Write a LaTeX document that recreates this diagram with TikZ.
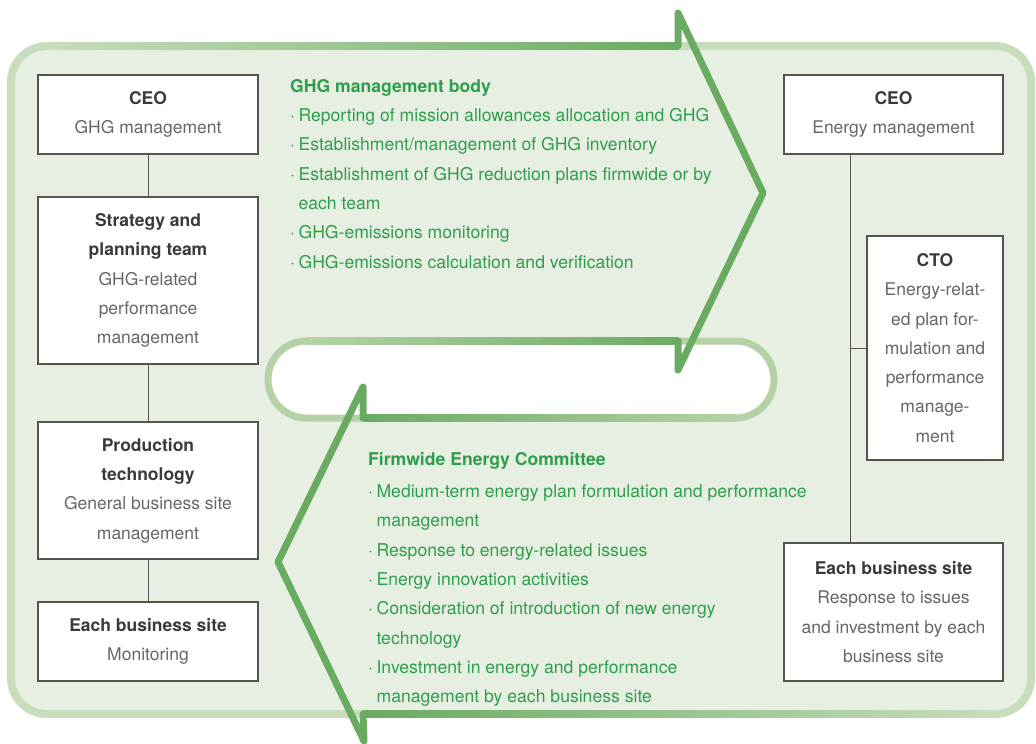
\documentclass[tikz,border=0pt]{standalone}
\usepackage{fontspec}
\setmainfont{TeX Gyre Heros}
\usetikzlibrary{positioning}

\definecolor{bgfill}{HTML}{E7EFE2}
\definecolor{bgline}{HTML}{C8DDBC}
\definecolor{pillline}{HTML}{B5D2A6}
\definecolor{arrowgreen}{HTML}{6AAB62}
\definecolor{textgreen}{HTML}{2F9E4C}
\definecolor{boxline}{HTML}{57534F}
\definecolor{titlegray}{HTML}{3A3A3A}
\definecolor{bodygray}{HTML}{666666}

\newcommand{\boxtitle}[1]{{\bfseries\color{titlegray}#1}}
\newcommand{\dotitem}{·\hspace{3.5pt}}
\newcommand{\contline}{\hphantom{\dotitem}}

\begin{document}
\begin{tikzpicture}[x=1pt, y=-1pt,
    orgbox/.style={draw=boxline, line width=1.2pt, fill=white, align=center,
        inner sep=0pt, text=bodygray, font=\fontsize{17.5}{29.3}\selectfont},
    link/.style={draw=boxline, line width=1pt},
    greentext/.style={align=left, inner sep=0pt, anchor=north west, text=textgreen,
        font=\fontsize{17.6}{29.3}\selectfont},
    arrowline/.style={draw=arrowgreen, line width=7pt, line join=round, line cap=round}]

\useasboundingbox (0,0) rectangle (1036,744);

%background panel and the middle pill
\draw[line width=8pt, draw=bgline, fill=bgfill, rounded corners=36pt] (11,46) rectangle (1031,714);
\draw[line width=7pt, draw=pillline, fill=white, rounded corners=38.5pt] (268,341) rectangle (774,418);

%shafts of the two arrows
\shade[left color=bgline, right color=arrowgreen] (47,42.5) rectangle (678,49.5);
\shade[left color=pillline, right color=arrowgreen] (306,337.5) rectangle (678,344.5);
\shade[left color=arrowgreen, right color=pillline] (363,414.5) rectangle (736,421.5);
\shade[left color=arrowgreen, right color=bgline] (363,710.5) rectangle (995,717.5);

%heads
\draw[arrowline] (678,46) -- (678,13) -- (763,193) -- (678,370) -- (678,341);
\draw[arrowline] (363,418) -- (363,387) -- (278,562) -- (364,741) -- (363,714);

%left column
\node[orgbox, minimum width=220pt, minimum height=79pt] (ceoL) at (148,114.5)
    {\boxtitle{CEO}\\GHG management};
\node[orgbox, minimum width=220pt, minimum height=167pt] (strat) at (148,280.5)
    {\boxtitle{Strategy and}\\\boxtitle{planning team}\\GHG-related\\performance\\management};
\node[orgbox, minimum width=220pt, minimum height=137pt] (prod) at (148,490.5)
    {\boxtitle{Production}\\\boxtitle{technology}\\General business site\\management};
\node[orgbox, minimum width=220pt, minimum height=79pt] (siteL) at (148,641.5)
    {\boxtitle{Each business site}\\Monitoring};

\draw[link] (ceoL) -- (strat);
\draw[link] (strat) -- (prod);
\draw[link] (prod) -- (siteL);

%right column
\node[orgbox, minimum width=219pt, minimum height=79pt] (ceoR) at (893.5,114.5)
    {\boxtitle{CEO}\\Energy management};
\node[orgbox, minimum width=136pt, minimum height=224pt] (cto) at (935,348)
    {\boxtitle{CTO}\\Energy-relat-\\ed plan for-\\mulation and\\performance\\manage-\\ment};
\node[orgbox, minimum width=219pt, minimum height=138pt] (siteR) at (893.5,612)
    {\boxtitle{Each business site}\\Response to issues\\and investment by each\\business site};

\coordinate (spine) at (850,0);
\draw[link] (ceoR.south -| spine) -- (siteR.north -| spine);
\draw[link] (cto.west) -- (cto.west -| spine);

%green lists
\node[greentext] (ghgbody) at (290,79)
    {\textbf{GHG management body}\\
     \dotitem Reporting of mission allowances allocation and GHG\\
     \dotitem Establishment/management of GHG inventory\\
     \dotitem Establishment of GHG reduction plans firmwide or by\\
     \contline each team\\
     \dotitem GHG-emissions monitoring\\
     \dotitem GHG-emissions calculation and verification};

\node[greentext] (committee) at (368,452)
    {\textbf{Firmwide Energy Committee}\\[3pt]
     \dotitem Medium-term energy plan formulation and performance\\
     \contline management\\
     \dotitem Response to energy-related issues\\
     \dotitem Energy innovation activities\\
     \dotitem Consideration of introduction of new energy\\
     \contline technology\\
     \dotitem Investment in energy and performance\\
     \contline management by each business site};

\end{tikzpicture}
\end{document}
